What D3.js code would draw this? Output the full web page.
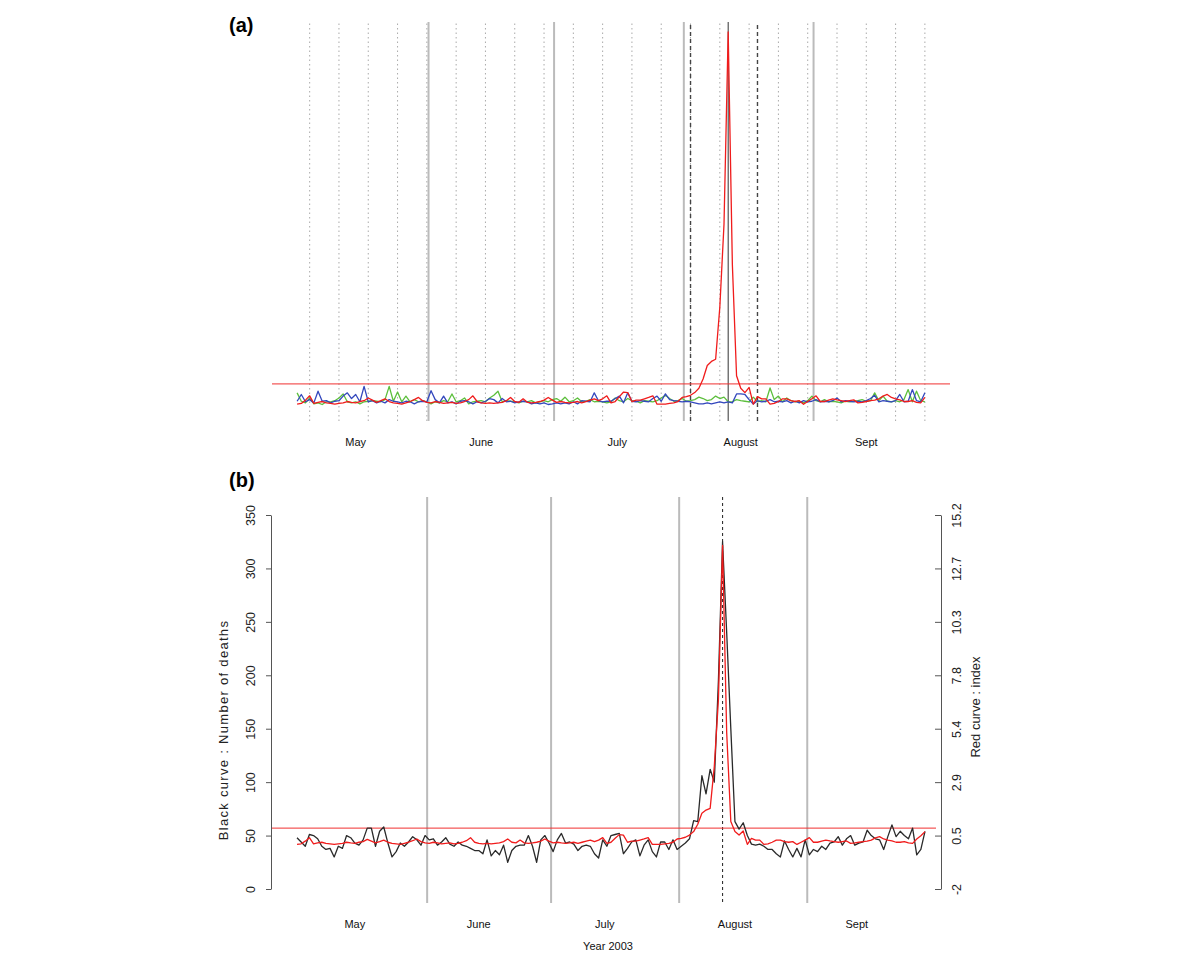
<!DOCTYPE html>
<html>
<head>
<meta charset="utf-8">
<script src="https://cdn.jsdelivr.net/npm/d3@7"></script>
<style>
  body { margin: 0; background: #fff; }
  text { font-family: "Liberation Sans", Arial, sans-serif; }
</style>
</head>
<body>
<svg width="1200" height="966"></svg>
<script>
// day index 0 = 1 May 2003
var months = ["May", "June", "July", "August", "Sept"];
var monthStart = [0, 31, 61, 92, 123];
var labelDayA = [14, 44, 76.5, 106, 136];
var labelDayB = [14, 44, 74.5, 106, 135.5];
var sundays = d3.range(3, 151, 7);
var heatWave = [94, 110];
var peakDay = 103;
var threshold = 0.8;

var deathTicks = [0, 50, 100, 150, 200, 250, 300, 350];
var indexTicks = ["-2", "0.5", "2.9", "5.4", "7.8", "10.3", "12.7", "15.2"];

// panel (b) black curve : number of deaths
var deaths = [48,44,40,51,50,47,40,37,38,30,
  40,38,50,48,43,41,46,57,57,40,
  54,58,43,30,35,43,40,44,49,46,
  41,50,46,47,41,44,48,42,40,44,
  41,40,38,36,36,33,46,31,36,32,
  41,25,36,40,41,41,50,40,25,46,
  50,43,35,46,52,43,44,42,36,40,
  41,40,33,29,46,40,50,51,52,33,
  38,44,46,31,41,46,35,30,44,44,
  37,46,37,40,43,47,64,63,106,89,
  112,100,195,325,240,150,63,56,62,50,
  42,41,42,40,37,37,33,30,45,37,
  30,38,30,46,32,37,35,40,37,43,
  44,49,41,47,50,41,43,44,55,50,
  47,46,37,49,60,49,54,50,47,57,
  32,37,54];

// red curve : index (also the red curve of panel a)
var index = [0.05,0.08,0.2,0.36,0.08,0.12,0.15,0.1,0.08,0.05,
  0.08,0.1,0.15,0.12,0.1,0.15,0.18,0.28,0.2,0.12,
  0.18,0.25,0.15,0.1,0.08,0.05,0.1,0.15,0.22,0.3,
  0.18,0.12,0.1,0.15,0.12,0.08,0.1,0.12,0.08,0.1,
  0.15,0.22,0.36,0.15,0.1,0.08,0.1,0.08,0.1,0.12,
  0.18,0.3,0.15,0.12,0.25,0.12,0.1,0.12,0.15,0.2,
  0.3,0.2,0.12,0.15,0.12,0.1,0.12,0.15,0.1,0.15,
  0.2,0.25,0.18,0.25,0.36,0.1,0.15,0.33,0.5,0.48,
  0.15,0.2,0.2,0.25,0.3,0.36,0.05,0.05,0.05,0.08,
  0.1,0.15,0.3,0.33,0.38,0.48,0.64,0.98,1.48,1.63,
  1.71,3.63,6.7,13.8,5.2,1.1,0.64,0.48,0.67,0.05,
  0.33,0.25,0.25,0.05,0.08,0.15,0.25,0.25,0.18,0.15,
  0.18,0.05,0.15,0.25,0.36,0.15,0.15,0.2,0.25,0.21,
  0.18,0.15,0.18,0.21,0.1,0.12,0.15,0.18,0.2,0.25,
  0.35,0.41,0.3,0.25,0.21,0.15,0.15,0.18,0.12,0.1,
  0.3,0.45,0.64];

// panel (a) other two indices
var green = [0.47,0.16,0.10,0.28,0.06,0.10,0.04,0.14,0.14,0.18,
  0.28,0.43,0.14,0.10,0.14,0.06,0.14,0.16,0.18,0.16,
  0.14,0.22,0.71,0.16,0.50,0.14,0.35,0.14,0.22,0.14,
  0.18,0.14,0.06,0.14,0.10,0.18,0.14,0.43,0.14,0.18,
  0.28,0.06,0.14,0.16,0.18,0.14,0.28,0.38,0.53,0.14,
  0.18,0.16,0.14,0.10,0.16,0.14,0.18,0.10,0.14,0.18,
  0.14,0.22,0.26,0.16,0.31,0.14,0.18,0.28,0.14,0.16,
  0.22,0.14,0.16,0.14,0.10,
  0.14,0.28,0.18,0.14,0.26,0.18,0.16,0.10,0.18,0.16,
  0.14,0.18,0.28,0.38,0.26,0.16,0.18,0.26,0.16,0.18,
  0.22,0.31,0.26,0.18,0.22,0.35,0.26,0.31,0.14,0.14,
  0.22,0.18,0.16,0.14,0.31,0.14,0.18,0.14,0.65,0.22,
  0.35,0.14,0.28,0.18,0.14,0.16,0.10,0.18,0.35,0.18,
  0.14,0.22,0.14,0.16,0.14,0.10,0.16,0.14,0.16,0.18,
  0.22,0.16,0.18,0.47,0.18,0.35,0.16,0.14,0.18,0.14,
  0.22,0.59,0.14,0.53,0.18,0.14];

var blue = [0.16,0.41,0.14,0.22,0.10,0.53,0.16,0.18,0.10,0.16,
  0.18,0.35,0.47,0.26,0.41,0.14,0.71,0.14,0.18,0.10,
  0.16,0.10,0.22,0.16,0.14,0.10,0.16,0.14,0.06,0.14,
  0.16,0.14,0.55,0.22,0.10,0.35,0.10,0.14,0.06,0.16,
  0.18,0.14,0.06,0.14,0.10,0.16,0.26,0.22,0.10,0.26,
  0.14,0.16,0.10,0.14,0.16,0.14,0.06,0.10,0.06,0.10,
  0.04,0.06,0.10,0.06,0.10,0.06,0.14,0.06,0.18,0.16,
  0.14,0.47,0.18,0.14,0.16,
  0.16,0.26,0.35,0.10,0.47,0.16,0.14,0.18,0.16,0.14,
  0.26,0.35,0.16,0.43,0.22,0.18,0.16,0.14,0.16,0.14,
  0.10,0.06,0.06,0.10,0.06,0.10,0.14,0.10,0.14,0.10,
  0.43,0.43,0.41,0.22,0.06,0.18,0.14,0.16,0.22,0.14,
  0.16,0.14,0.18,0.10,0.16,0.10,0.18,0.14,0.16,0.22,
  0.14,0.16,0.14,0.18,0.28,0.14,0.18,0.16,0.14,0.16,
  0.14,0.18,0.26,0.38,0.14,0.18,0.16,0.14,0.18,0.41,
  0.14,0.16,0.59,0.18,0.14,0.47];

var svg = d3.select("svg");

function vline(g, x, y0, y1, color, width, dash) {
  g.append("line")
    .attr("x1", x).attr("x2", x)
    .attr("y1", y0).attr("y2", y1)
    .style("stroke", color)
    .style("stroke-width", width)
    .style("stroke-dasharray", dash || null);
}

function series(g, values, x, y, color, width) {
  var line = d3.line()
    .x(function(d, i) { return x(i); })
    .y(function(d) { return y(d); });
  g.append("path")
    .datum(values)
    .attr("d", line)
    .style("fill", "none")
    .style("stroke", color)
    .style("stroke-width", width)
    .style("stroke-linejoin", "round");
}

// ---------- panel (a)
var xA = d3.scaleLinear().domain([-6, 156]).range([272, 950]);
var yA = d3.scaleLinear().domain([-0.57, 14.17]).range([421, 22]);
var gA = svg.append("g");

sundays.forEach(function(d) {
  vline(gA, xA(d), yA.range()[0], yA.range()[1], "#aaa", 1, "1.5,3");
});
monthStart.slice(1).forEach(function(d) {
  vline(gA, xA(d + 0.4), yA.range()[0], yA.range()[1], "#bbb", 2);
});
heatWave.forEach(function(d) {
  vline(gA, xA(d), yA.range()[0], yA.range()[1], "#444", 1.4, "4,3");
});
vline(gA, xA(peakDay), yA.range()[0], yA.range()[1], "#333", 1);

gA.append("line")
  .attr("x1", xA.range()[0]).attr("x2", xA.range()[1])
  .attr("y1", yA(threshold)).attr("y2", yA(threshold))
  .style("stroke", "#f03030").style("stroke-width", 1);

series(gA, green, xA, yA, "#5cbf3c", 1.3);
series(gA, blue, xA, yA, "#3347bd", 1.3);
series(gA, index.slice(0, 151), xA, yA, "#f01c1c", 1.3);

gA.selectAll(".month")
  .data(months)
  .enter().append("text")
    .attr("x", function(d, i) { return xA(labelDayA[i]); })
    .attr("y", 446)
    .attr("text-anchor", "middle")
    .style("font-size", "11px")
    .style("fill", "#111")
    .text(function(d) { return d; });

svg.append("text").attr("x", 229).attr("y", 32)
  .style("font-size", "20px").style("font-weight", "bold").text("(a)");

// ---------- panel (b)
var xB = d3.scaleLinear().domain([0, 152]).range([297, 925]);
var yB = d3.scaleLinear().domain([0, 350]).range([889, 515]);
var yR = d3.scaleLinear().domain([-2, 15.2]).range([889, 515]);
var gB = svg.append("g");
var bTop = 497, bBottom = 903, bLeft = 272, bRight = 936;

monthStart.slice(1).forEach(function(d) {
  vline(gB, xB(d + 0.5), bTop, bBottom, "#bbb", 2);
});
vline(gB, xB(peakDay), bTop, bBottom, "#333", 1.1, "3,3");

gB.append("line")
  .attr("x1", bLeft).attr("x2", bRight)
  .attr("y1", yR(threshold)).attr("y2", yR(threshold))
  .style("stroke", "#f03030").style("stroke-width", 1);

series(gB, deaths, xB, yB, "#2a2a2a", 1.3);
series(gB, index, xB, yR, "#f01c1c", 1.3);

// left axis
var axL = gB.append("g")
  .attr("transform", "translate(271,0)")
  .call(d3.axisLeft(yB).tickValues(deathTicks).tickSize(5).tickSizeOuter(0));
// right axis, ticks point inward like the original
var axR = gB.append("g")
  .attr("transform", "translate(941,0)")
  .call(d3.axisLeft(yR)
    .tickValues(indexTicks.map(function(d, k) { return -2 + k * 17.2 / 7; }))
    .tickFormat(function(d, k) { return indexTicks[k]; })
    .tickSize(6).tickSizeOuter(0));

[axL, axR].forEach(function(ax) {
  ax.select(".domain").style("stroke", "#555");
  ax.selectAll(".tick line").style("stroke", "#555");
  ax.selectAll(".tick text")
    .attr("transform", "rotate(-90)")
    .attr("x", 0)
    .attr("dy", 0)
    .style("text-anchor", "middle")
    .style("font-size", "12.5px")
    .style("font-family", "Liberation Sans, Arial, sans-serif")
    .style("fill", "#222");
});
axL.selectAll(".tick text").attr("y", -16);
axR.selectAll(".tick text").attr("y", 20);

svg.append("text")
  .attr("transform", "translate(228,730) rotate(-90)")
  .attr("text-anchor", "middle")
  .style("font-size", "13px").style("letter-spacing", "1.3px").style("fill", "#222")
  .text("Black curve : Number of deaths");
svg.append("text")
  .attr("transform", "translate(980,707) rotate(-90)")
  .attr("text-anchor", "middle")
  .style("font-size", "13px").style("fill", "#222")
  .text("Red curve : index");

gB.selectAll(".month")
  .data(months)
  .enter().append("text")
    .attr("x", function(d, i) { return xB(labelDayB[i]); })
    .attr("y", 928)
    .attr("text-anchor", "middle")
    .style("font-size", "11px")
    .style("fill", "#111")
    .text(function(d) { return d; });

svg.append("text").attr("x", 608).attr("y", 950)
  .attr("text-anchor", "middle")
  .style("font-size", "11px").style("fill", "#111")
  .text("Year 2003");

svg.append("text").attr("x", 229).attr("y", 487)
  .style("font-size", "20px").style("font-weight", "bold").text("(b)");
</script>
</body>
</html>
